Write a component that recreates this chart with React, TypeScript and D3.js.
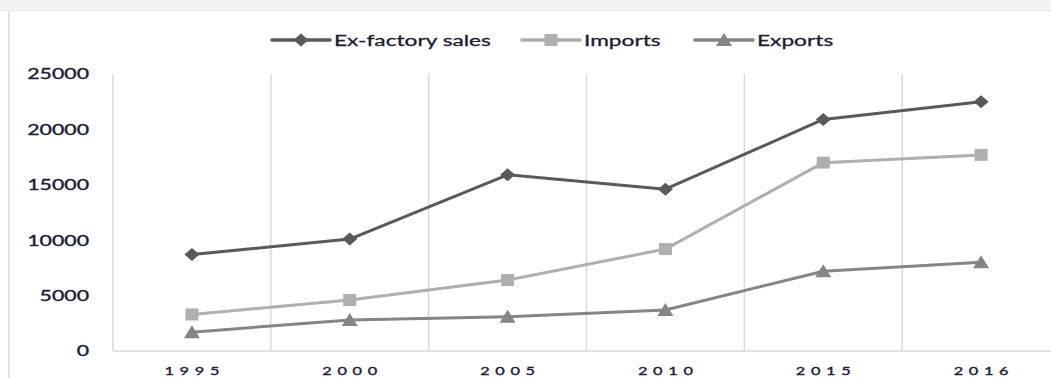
import React from "react";
import * as d3 from "d3";

const years = ["1995", "2000", "2005", "2010", "2015", "2016"];
const exFactory = [8700, 10100, 15900, 14600, 20900, 22500];
const imports = [3300, 4600, 6400, 9200, 17000, 17700];
const exportsV = [1700, 2800, 3100, 3700, 7200, 8000];
const yTicks = [0, 5000, 10000, 15000, 20000, 25000];

const series = [
  { name: "Ex-factory sales", values: exFactory, color: "#595959", marker: "diamond", lx: 272 },
  { name: "Imports", values: imports, color: "#afafaf", marker: "square", lx: 522 },
  { name: "Exports", values: exportsV, color: "#858585", marker: "triangle", lx: 695 },
];

const SX = 1.42;

function Marker({ type, x, y, color }: { type: string; x: number; y: number; color: string }) {
  if (type === "diamond") {
    return <path d={`M${x},${y - 6.5}L${x + 7.5},${y}L${x},${y + 6.5}L${x - 7.5},${y}Z`} fill={color} />;
  }
  if (type === "square") {
    return <rect x={x - 6.5} y={y - 6} width={13} height={12} fill={color} />;
  }
  return <path d={`M${x},${y - 7}L${x + 8},${y + 6}L${x - 8},${y + 6}Z`} fill={color} />;
}

export default function App() {
  const W = 1051, H = 378;
  const left = 113, right = 1060, top = 74, bottom = 351;
  const x = d3.scaleBand().domain(years).range([left, right]);
  const y = d3.scaleLinear().domain([0, 25000]).range([bottom, top]);
  const cx = (yr: string) => (x(yr) as number) + x.bandwidth() / 2;
  const line = d3
    .line<number>()
    .x((_, i) => cx(years[i]))
    .y((d) => y(d));
  const font = "Lato, 'Open Sans', sans-serif";
  const tc = "#1c1c33";
  return (
    <svg width={W} height={H} style={{ position: "absolute", left: 0, top: 0 }}>
      <rect x={0} y={0} width={W} height={H} fill="#fff" />
      <rect x={0} y={0} width={W} height={11} fill="#f2f2f2" />
      <line x1={0} x2={W} y1={11} y2={11} stroke="#e6e6e6" strokeWidth={1} />
      <line x1={9} x2={9} y1={12} y2={H} stroke="#d9d9d9" strokeWidth={1.5} />
      {years.slice(1).map((yr) => (
        <line
          key={yr}
          x1={x(yr) as number}
          x2={x(yr) as number}
          y1={top}
          y2={bottom}
          stroke="#d9d9d9"
          strokeWidth={1.5}
        />
      ))}
      <line x1={left} x2={left} y1={top} y2={bottom} stroke="#d9d9d9" strokeWidth={1.5} />
      <line x1={left} x2={W} y1={bottom} y2={bottom} stroke="#d9d9d9" strokeWidth={1.5} />
      {yTicks.map((t) => (
        <text
          key={t}
          transform={`translate(89,${y(t)}) scale(${SX},1)`}
          dy="0.36em"
          textAnchor="end"
          fontFamily={font}
          fontSize={15}
          fill={tc}
          stroke={tc}
          strokeWidth={0.35}
        >
          {t}
        </text>
      ))}
      {years.map((yr) => (
        <text
          key={yr}
          transform={`translate(${cx(yr)},375) scale(${SX},1)`}
          dx={2}
          textAnchor="middle"
          fontFamily={font}
          fontSize={11.5}
          letterSpacing={4}
          fill={tc}
          stroke={tc}
          strokeWidth={0.35}
        >
          {yr}
        </text>
      ))}
      {series.map((s) => (
        <g key={s.name}>
          <path d={line(s.values) || ""} fill="none" stroke={s.color} strokeWidth={3} strokeLinejoin="round" />
          {s.values.map((v, i) => (
            <Marker key={i} type={s.marker} x={cx(years[i])} y={y(v)} color={s.color} />
          ))}
        </g>
      ))}
      {series.map((s) => (
        <g key={"lg" + s.name}>
          <line x1={s.lx} x2={s.lx + 58} y1={40} y2={40} stroke={s.color} strokeWidth={3.5} strokeLinecap="round" />
          <Marker type={s.marker} x={s.lx + 29} y={40} color={s.color} />
          <text
            transform={`translate(${s.lx + 62},40) scale(${SX},1)`}
            dy="0.36em"
            fontFamily={font}
            fontSize={16}
            fill={tc}
            stroke={tc}
            strokeWidth={0.3}
          >
            {s.name}
          </text>
        </g>
      ))}
    </svg>
  );
}
